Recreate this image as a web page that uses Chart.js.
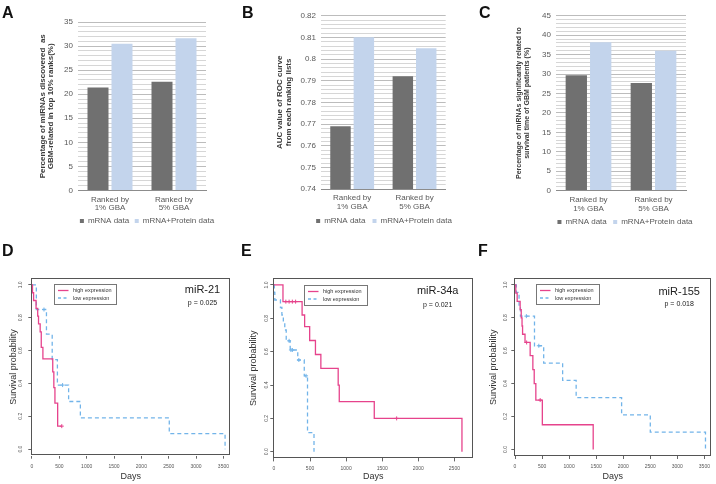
<!DOCTYPE html>
<html>
<head>
<meta charset="utf-8">
<script src="https://cdn.jsdelivr.net/npm/chart.js@4.4.1/dist/chart.umd.min.js"></script>
<style>
    body { margin: 0; background: #fff; }
    #wrap { position: relative; width: 716px; height: 484px; overflow: hidden; font-family: "Liberation Sans", Arial, sans-serif; }
    canvas { position: absolute; }
    .lbl { position: absolute; font-weight: bold; font-size: 16px; line-height: 16px; color: #111; }
</style>
</head>
<body>
<div id="wrap">
    <canvas id="cA" width="238" height="235" style="left:0;top:0"></canvas>
    <canvas id="cB" width="238" height="235" style="left:238px;top:0"></canvas>
    <canvas id="cC" width="240" height="236" style="left:476px;top:0"></canvas>
    <canvas id="cD" width="238" height="244" style="left:0;top:240px"></canvas>
    <canvas id="cE" width="240" height="244" style="left:238px;top:240px"></canvas>
    <canvas id="cF" width="240" height="244" style="left:476px;top:240px"></canvas>
    <div class="lbl" style="left:2px;top:5px">A</div>
    <div class="lbl" style="left:242px;top:5px">B</div>
    <div class="lbl" style="left:479px;top:5px">C</div>
    <div class="lbl" style="left:2px;top:243px">D</div>
    <div class="lbl" style="left:241px;top:243px">E</div>
    <div class="lbl" style="left:478px;top:243px">F</div>
</div>
<script>
const FONT = '"Liberation Sans", Arial, sans-serif';

// ---- bar panels (A, B, C)
const groups = [['Ranked by', '1% GBA'], ['Ranked by', '5% GBA']];
const seriesNames = ['mRNA data', 'mRNA+Protein data'];

const aMrna = [21.4, 22.6];
const aProt = [30.5, 31.6];
const aTicks = [0, 5, 10, 15, 20, 25, 30, 35];

const bMrna = [0.769, 0.792];
const bProt = [0.810, 0.805];
const bTicks = [0.74, 0.75, 0.76, 0.77, 0.78, 0.79, 0.8, 0.81, 0.82];

const cMrna = [29.7, 27.7];
const cProt = [38.2, 36.0];
const cTicks = [0, 5, 10, 15, 20, 25, 30, 35, 40, 45];

// ---- survival panels (D, E, F): time of each step and survival after it
const kmNames = ['high expression', 'low expression'];
const kmTitles = ['miR-21', 'miR-34a', 'miR-155'];
const kmP = ['p = 0.025', 'p = 0.021', 'p = 0.018'];
const survTicks = [0, 0.2, 0.4, 0.6, 0.8, 1.0];

const dHighT = [0, 10, 30, 75, 105, 120, 150, 170, 200, 380, 400, 420, 470, 545];
const dHighS = [1, 0.952, 0.905, 0.857, 0.81, 0.762, 0.714, 0.619, 0.55, 0.47, 0.375, 0.28, 0.14, 0.14];
const dHighCensT = [545];
const dHighCensS = [0.14];
const dLowT = [0, 80, 265, 370, 465, 670, 885, 2510, 3530];
const dLowS = [1, 0.85, 0.70, 0.545, 0.39, 0.29, 0.19, 0.095, 0];
const dLowCensT = [220, 560];
const dLowCensS = [0.85, 0.39];
const dDays = [0, 500, 1000, 1500, 2000, 2500, 3000, 3500];

const eHighT = [0, 125, 390, 425, 495, 575, 650, 890, 905, 1390, 2605];
const eHighS = [1, 0.9, 0.82, 0.75, 0.667, 0.583, 0.5, 0.4, 0.3, 0.2, 0];
const eHighCensT = [165, 210, 255, 300, 1700];
const eHighCensS = [0.9, 0.9, 0.9, 0.9, 0.2];
const eLowT = [0, 5, 12, 90, 110, 130, 150, 170, 225, 330, 420, 465, 555];
const eLowS = [1, 0.955, 0.91, 0.865, 0.82, 0.775, 0.73, 0.665, 0.61, 0.55, 0.455, 0.115, 0];
const eLowCensT = [210, 235, 255, 345, 445];
const eLowCensS = [0.665, 0.61, 0.61, 0.55, 0.455];
const eDays = [0, 500, 1000, 1500, 2000, 2500];

const fHighT = [0, 15, 40, 95, 115, 130, 140, 185, 280, 330, 355, 385, 505, 1445];
const fHighS = [1, 0.95, 0.9, 0.85, 0.8, 0.75, 0.70, 0.65, 0.57, 0.485, 0.40, 0.30, 0.15, 0];
const fHighCensT = [215, 465];
const fHighCensS = [0.65, 0.30];
const fLowT = [0, 25, 75, 100, 360, 530, 880, 1130, 1970, 2500, 3520];
const fLowS = [1, 0.955, 0.86, 0.81, 0.63, 0.525, 0.42, 0.315, 0.21, 0.105, 0];
const fLowCensT = [210, 440];
const fLowCensS = [0.81, 0.63];
const fDays = [0, 500, 1000, 1500, 2000, 2500, 3000, 3500];

const barColors = ['#707070', '#c3d4ec'];
const MAG = '#e6438c';
const BLUE = '#72b4e9';

function makeBar(id, mrna, prot, ticks, title, lay) {
    const isMajor = v => ticks.some(t => Math.abs(t - v) < 1e-9);
    new Chart(document.getElementById(id), {
        type: 'bar',
        data: {
            labels: groups,
            datasets: [
                { label: seriesNames[0], data: mrna, backgroundColor: barColors[0] },
                { label: seriesNames[1], data: prot, backgroundColor: barColors[1] }
            ]
        },
        options: {
            responsive: false,
            animation: false,
            categoryPercentage: 0.75,
            barPercentage: 0.875,
            layout: { padding: { left: lay.left, right: 0, top: lay.top, bottom: 0 } },
            plugins: {
                legend: {
                    position: 'bottom',
                    labels: {
                        boxWidth: 4, boxHeight: 4, padding: lay.lp,
                        color: '#595959',
                        font: { size: 8, family: FONT }
                    }
                },
                tooltip: { enabled: false }
            },
            scales: {
                x: {
                    grid: { display: false, drawTicks: false },
                    border: { color: '#8c8c8c' },
                    ticks: {
                        color: '#595959', padding: 4.5, maxRotation: 0,
                        font: { size: 8, family: FONT, lineHeight: 1.1 }
                    },
                    afterFit: s => { s.height = lay.xh; }
                },
                y: {
                    min: ticks[0],
                    max: ticks[ticks.length - 1],
                    border: { display: false },
                    grid: {
                        drawTicks: false,
                        color: c => (c.tick && isMajor(c.tick.value)) ? '#bcbcbc' : '#d6d6d6'
                    },
                    ticks: {
                        autoSkip: false, padding: 5, color: '#595959',
                        font: { size: 8, family: FONT },
                        callback: v => isMajor(v) ? String(+v.toFixed(3)) : ''
                    },
                    afterBuildTicks: s => {
                        // 5 minor gridlines per labelled step
                        const out = [];
                        for (let i = 0; i < ticks.length - 1; i++) {
                            for (let k = 0; k < 5; k++) {
                                out.push({ value: k === 0 ? ticks[i] : ticks[i] + (ticks[i + 1] - ticks[i]) * k / 5 });
                            }
                        }
                        out.push({ value: ticks[ticks.length - 1] });
                        s.ticks = out;
                    },
                    afterFit: s => { s.width = lay.yw; },
                    title: {
                        display: true, text: title, color: '#3a3a3a',
                        font: { size: lay.tsize, weight: 'bold', family: FONT, lineHeight: lay.tlh },
                        padding: { top: lay.tpad, bottom: 0 }
                    }
                },
                // empty right-hand spacer so the legend can centre under the plot
                r: {
                    position: 'right',
                    display: true,
                    grid: { display: false, drawTicks: false },
                    border: { display: false },
                    ticks: { display: false },
                    afterFit: s => { s.width = lay.rw; }
                }
            }
        }
    });
}

const kmDecor = {
    id: 'kmDecor',
    afterDraw(chart, args, o) {
        const { ctx, chartArea: a } = chart;
        ctx.save();
        ctx.strokeStyle = '#555';
        ctx.lineWidth = 1;
        ctx.strokeRect(Math.round(a.left) + 0.5, Math.round(a.top) + 0.5,
            Math.round(a.width) - 1, Math.round(a.height) - 1);

        // legend box
        const lx = Math.round(a.left + o.lx), ly = Math.round(a.top + o.ly);
        ctx.strokeStyle = '#777';
        ctx.strokeRect(lx + 0.5, ly + 0.5, o.lw, 20);
        ctx.lineWidth = 1.3;
        ctx.strokeStyle = MAG;
        ctx.beginPath(); ctx.moveTo(lx + 4, ly + 6.5); ctx.lineTo(lx + 14.5, ly + 6.5); ctx.stroke();
        ctx.strokeStyle = BLUE;
        ctx.setLineDash([3, 2.5]);
        ctx.beginPath(); ctx.moveTo(lx + 4, ly + 14); ctx.lineTo(lx + 14.5, ly + 14); ctx.stroke();
        ctx.setLineDash([]);
        ctx.fillStyle = '#333';
        ctx.font = '5.5px ' + FONT;
        ctx.textAlign = 'left';
        ctx.textBaseline = 'middle';
        ctx.fillText(kmNames[0], lx + 19, ly + 6.5);
        ctx.fillText(kmNames[1], lx + 19, ly + 14);

        // miRNA name and p value
        ctx.textAlign = 'center';
        ctx.fillStyle = '#222';
        ctx.font = '11px ' + FONT;
        ctx.fillText(o.name, a.right - o.ax, a.top + o.nameY);
        ctx.font = '7px ' + FONT;
        ctx.fillText(o.p, a.right - o.ax, a.top + o.pY);
        ctx.restore();
    }
};

function pts(t, s) {
    return t.map((x, i) => ({ x: x, y: s[i] }));
}

function makeKM(id, high, low, highCens, lowCens, days, lay, deco) {
    new Chart(document.getElementById(id), {
        type: 'scatter',
        data: {
            datasets: [
                { data: pts(high[0], high[1]), showLine: true, stepped: 'before', borderColor: MAG, borderWidth: 1.3, pointRadius: 0 },
                { data: pts(low[0], low[1]), showLine: true, stepped: 'before', borderColor: BLUE, borderWidth: 1.3, borderDash: [4, 3], pointRadius: 0 },
                { data: pts(highCens[0], highCens[1]), pointStyle: 'cross', pointRadius: 2, borderColor: MAG, borderWidth: 1 },
                { data: pts(lowCens[0], lowCens[1]), pointStyle: 'cross', pointRadius: 2, borderColor: BLUE, borderWidth: 1 }
            ]
        },
        plugins: [kmDecor],
        options: {
            responsive: false,
            animation: false,
            layout: { padding: { left: 0, right: lay.right, top: lay.top, bottom: 0 } },
            plugins: {
                legend: { display: false },
                tooltip: { enabled: false },
                kmDecor: deco
            },
            scales: {
                x: {
                    type: 'linear',
                    min: lay.xmin, max: lay.xmax,
                    afterBuildTicks: s => { s.ticks = days.map(v => ({ value: v })); },
                    grid: { drawOnChartArea: false, tickLength: 3, color: '#666' },
                    border: { display: false },
                    ticks: {
                        autoSkip: false, maxRotation: 0, padding: lay.xpad, color: '#555',
                        font: { size: 5, family: FONT },
                        callback: v => String(v)
                    },
                    title: {
                        display: true, text: 'Days', color: '#333',
                        font: { size: 9, family: FONT, lineHeight: 1.2 },
                        padding: { top: 0, bottom: 1.9 }
                    },
                    afterFit: s => { s.height = lay.xh; }
                },
                y: {
                    min: -0.04, max: 1.04,
                    afterBuildTicks: s => { s.ticks = survTicks.map(v => ({ value: v })); },
                    grid: { drawOnChartArea: false, tickLength: 3, color: '#666' },
                    border: { display: false },
                    ticks: {
                        autoSkip: false, minRotation: 90, maxRotation: 90, crossAlign: 'center',
                        padding: lay.ypad, color: '#555',
                        font: { size: 5, family: FONT },
                        callback: v => v.toFixed(1)
                    },
                    title: {
                        display: true, text: 'Survival probability', color: '#333',
                        font: { size: 9, family: FONT, lineHeight: 1.2 },
                        padding: { top: lay.tpad, bottom: 0 }
                    },
                    afterFit: s => { s.width = lay.yw; }
                }
            }
        }
    });
}

makeBar('cA', aMrna, aProt, aTicks,
    ['Percentage of miRNAs discovered  as', 'GBM-related in top 10% ranks(%)'],
    { left: 56, top: 22, xh: 21, lp: 5.5, yw: 22, rw: 32, tsize: 8, tlh: 1.0, tpad: -17 });
makeBar('cB', bMrna, bProt, bTicks,
    ['AUC value of ROC curve', 'from each ranking lists'],
    { left: 54, top: 15.7, xh: 21, lp: 7, yw: 29, rw: 30.3, tsize: 8, tlh: 1.05, tpad: -16.2 });
makeBar('cC', cMrna, cProt, cTicks,
    ['Percentage of miRNAs significantly related to', 'survival time of GBM patients (%)'],
    { left: 58, top: 15.7, xh: 21, lp: 6.4, yw: 22, rw: 30, tsize: 7, tlh: 1.05, tpad: -18.4 });

makeKM('cD', [dHighT, dHighS], [dLowT, dLowS], [dHighCensT, dHighCensS], [dLowCensT, dLowCensS], dDays,
    { right: 8, top: 38.3, xh: 28.3, yw: 31.3, xmin: -12, xmax: 3620, xpad: 5, ypad: 4, tpad: 7.9 },
    { lx: 23, ly: 6, lw: 62, name: kmTitles[0], p: kmP[0], ax: 27.5, nameY: 11.7, pY: 24.4 });
makeKM('cE', [eHighT, eHighS], [eLowT, eLowS], [eHighCensT, eHighCensS], [eLowCensT, eLowCensS], eDays,
    { right: 0.7, top: 38.3, xh: 25.6, yw: 35.3, xmin: -9, xmax: 2758, xpad: 4, ypad: 0, tpad: 9.9 },
    { lx: 30.7, ly: 6.7, lw: 63, name: kmTitles[1], p: kmP[1], ax: 35.3, nameY: 12.7, pY: 26.7 });
makeKM('cF', [fHighT, fHighS], [fLowT, fLowS], [fHighCensT, fHighCensS], [fLowCensT, fLowCensS], fDays,
    { right: 1.7, top: 38.3, xh: 28, yw: 38.3, xmin: -13, xmax: 3622, xpad: 4.7, ypad: 1.8, tpad: 11.9 },
    { lx: 21.7, ly: 6, lw: 63, name: kmTitles[2], p: kmP[2], ax: 31.8, nameY: 13.4, pY: 25.7 });
</script>
</body>
</html>
